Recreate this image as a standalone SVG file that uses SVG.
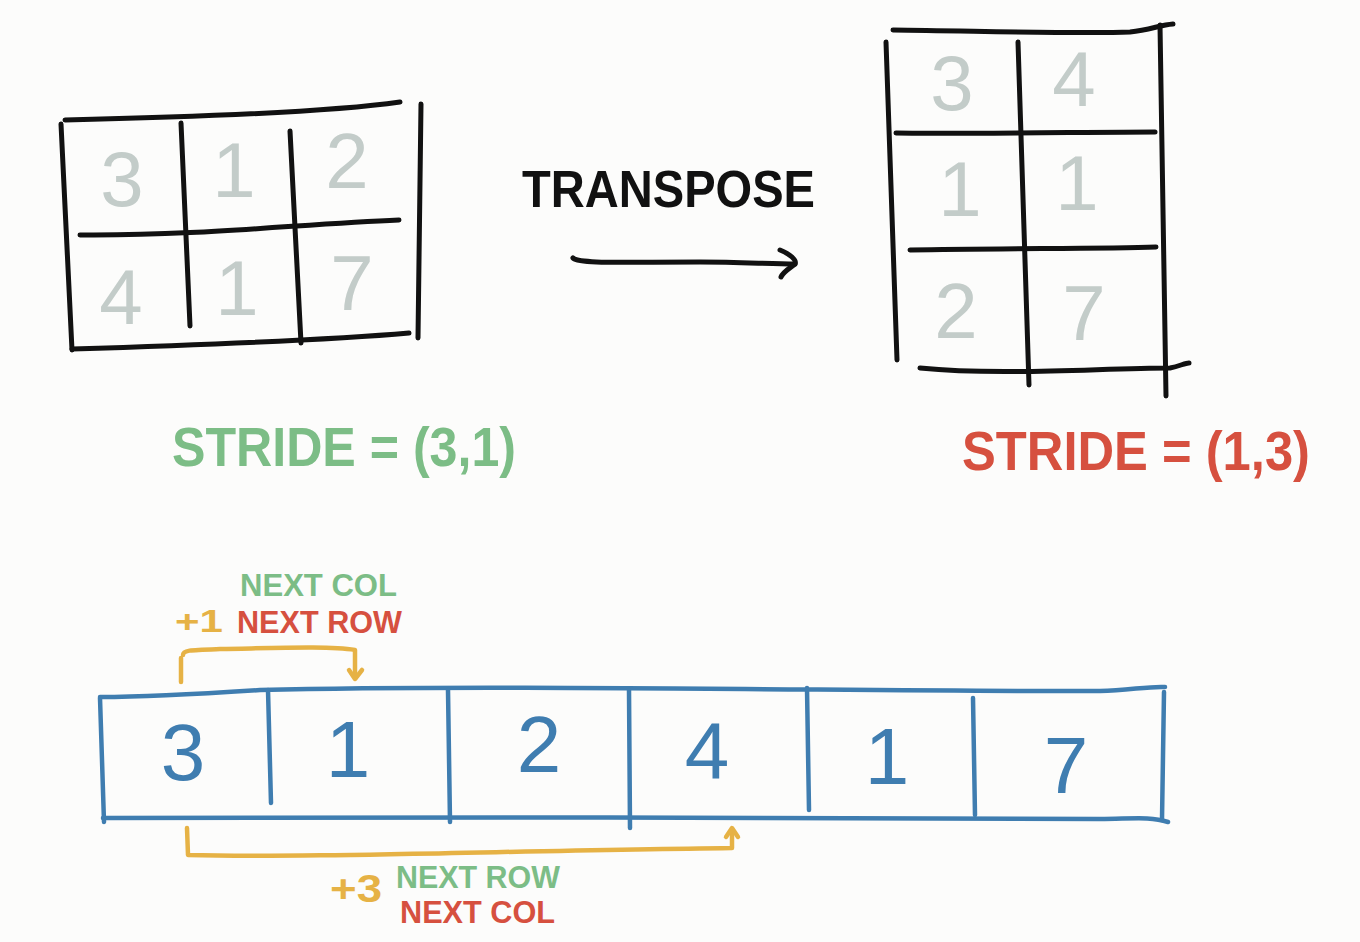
<svg xmlns="http://www.w3.org/2000/svg" width="1360" height="942" viewBox="0 0 1360 942">
<style>
.ink{fill:none;stroke:#111;stroke-width:5;stroke-linecap:round;stroke-linejoin:round}
.bl{fill:none;stroke:#3f7db0;stroke-width:4.5;stroke-linecap:round;stroke-linejoin:round}
.or{fill:none;stroke:#e6b245;stroke-width:4.5;stroke-linecap:round;stroke-linejoin:round}
text{font-family:"Liberation Sans","DejaVu Sans",sans-serif}
.gd{fill:#c3ccc9;font-size:78px;text-anchor:middle}
.bd{fill:#3f7db0;font-size:80px;text-anchor:middle}
.lb{font-weight:bold}
.g{fill:#7cbd86}
.r{fill:#d6503f}
.o{fill:#e6b245}
</style>
<rect width="1360" height="942" fill="#fcfcfb"/>

<g id="matrix-left">
<path class="ink" d="M65 120 C200 117 330 112 400 102"/>
<path class="ink" d="M61 124 L72 350"/>
<path class="ink" d="M72 349 C200 345 330 340 409 333"/>
<path class="ink" d="M421 104 L418 338"/>
<path class="ink" d="M181 123 L190 326"/>
<path class="ink" d="M290 131 L301 343"/>
<path class="ink" d="M80 235 C200 236 300 224 399 220"/>
<text class="gd" x="122" y="206">3</text>
<text class="gd" x="234" y="197">1</text>
<text class="gd" x="347" y="188">2</text>
<text class="gd" x="121" y="324">4</text>
<text class="gd" x="237" y="315">1</text>
<text class="gd" x="352" y="310">7</text>
</g>

<g id="transpose-label">
<text class="lb" x="522" y="207" font-size="52" fill="#111" textLength="293" lengthAdjust="spacingAndGlyphs">TRANSPOSE</text>
</g>

<g id="matrix-right">
<path class="ink" d="M893 30 C980 31 1080 34 1130 32 C1150 30 1160 25 1173 24"/>
<path class="ink" d="M886 42 L897 360"/>
<path class="ink" d="M920 368 C1000 376 1100 368 1170 368 C1180 366 1185 363 1189 363"/>
<path class="ink" d="M1160 25 L1166 396"/>
<path class="ink" d="M1018 42 L1029 385"/>
<path class="ink" d="M896 133 C950 134 1100 132 1155 132"/>
<path class="ink" d="M910 250 C1000 248 1100 249 1156 247"/>
<text class="gd" x="952" y="110">3</text>
<text class="gd" x="1074" y="106">4</text>
<text class="gd" x="960" y="216">1</text>
<text class="gd" x="1077" y="210">1</text>
<text class="gd" x="956" y="338">2</text>
<text class="gd" x="1084" y="340">7</text>
</g>

<g id="stride-left">
<text class="g lb" x="172" y="466" font-size="56" textLength="344" lengthAdjust="spacingAndGlyphs">STRIDE = (3,1)</text>
</g>
<g id="stride-right">
<text class="r lb" x="962" y="470" font-size="56" textLength="348" lengthAdjust="spacingAndGlyphs">STRIDE = (1,3)</text>
</g>

<g id="array">
<path class="bl" d="M100 697 C150 697 200 694 260 690 C500 684 900 692 1100 691 C1130 690 1150 686 1165 687"/>
<path class="bl" d="M100 698 L104 822"/>
<path class="bl" d="M103 818 C400 816 800 818 1100 819 C1130 819 1150 816 1168 822"/>
<path class="bl" d="M1164 692 L1162 820"/>
<path class="bl" d="M268 690 L271 803"/>
<path class="bl" d="M448 690 L450 822"/>
<path class="bl" d="M629 690 L630 828"/>
<path class="bl" d="M807 688 L809 810"/>
<path class="bl" d="M973 698 L975 815"/>
<text class="bd" x="183" y="780">3</text>
<text class="bd" x="348" y="777">1</text>
<text class="bd" x="539" y="772">2</text>
<text class="bd" x="707" y="778">4</text>
<text class="bd" x="887" y="784">1</text>
<text class="bd" x="1066" y="793">7</text>
</g>

<g id="connectors">
<path class="ink" d="M573 258 C580 264 620 262 700 262 C740 262 770 264 795 264"/>
<path class="ink" d="M780 250 C790 254 797 260 795 264 C790 268 783 272 781 277"/>
<path class="or" d="M181 658 L181 682"/>
<path class="or" d="M183 655 C183 650 190 650 220 649 C280 648 330 646 355 650 L355 677"/>
<path class="or" d="M349 670 L355 679 L362 670"/>
<path class="or" d="M187 828 L188 855 C300 858 500 851 732 848 L732 830"/>
<path class="or" d="M726 837 L732 828 L738 837"/>
</g>

<g id="labels">
<text class="g lb" x="240" y="596" font-size="31" textLength="157" lengthAdjust="spacingAndGlyphs">NEXT COL</text>
<text class="o lb" x="175" y="632" font-size="31" textLength="48" lengthAdjust="spacingAndGlyphs">+1</text>
<text class="r lb" x="237" y="633" font-size="31" textLength="165" lengthAdjust="spacingAndGlyphs">NEXT ROW</text>
<text class="o lb" x="330" y="902" font-size="38" textLength="52" lengthAdjust="spacingAndGlyphs">+3</text>
<text class="g lb" x="396" y="888" font-size="31" textLength="164" lengthAdjust="spacingAndGlyphs">NEXT ROW</text>
<text class="r lb" x="400" y="923" font-size="31" textLength="155" lengthAdjust="spacingAndGlyphs">NEXT COL</text>
</g>
</svg>
